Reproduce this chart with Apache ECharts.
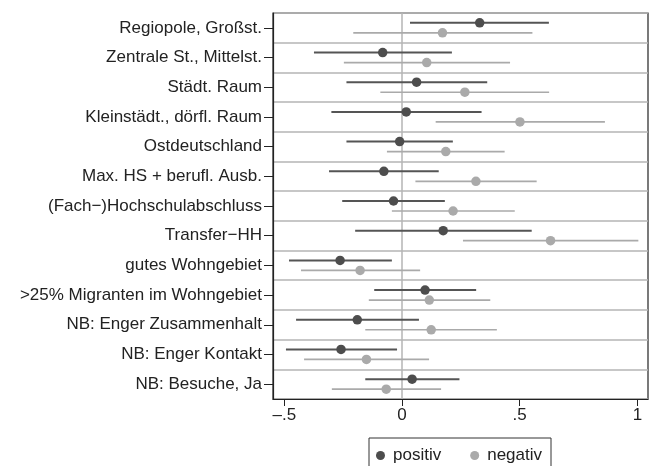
<!DOCTYPE html>
<html>
<head>
<meta charset="utf-8">
<script src="https://cdn.jsdelivr.net/npm/echarts@6/dist/echarts.min.js"></script>
<style>
  html, body { margin: 0; padding: 0; background: #fff; }
  #main { width: 657px; height: 466px; }
</style>
</head>
<body>
<div id="main"></div>
<script>
const categories = [
  "Regiopole, Großst.",
  "Zentrale St., Mittelst.",
  "Städt. Raum",
  "Kleinstädt., dörfl. Raum",
  "Ostdeutschland",
  "Max. HS + berufl. Ausb.",
  "(Fach\u2212)Hochschulabschluss",
  "Transfer\u2212HH",
  "gutes Wohngebiet",
  ">25% Migranten im Wohngebiet",
  "NB: Enger Zusammenhalt",
  "NB: Enger Kontakt",
  "NB: Besuche, Ja"
];

// positiv
const posMean = [0.330, -0.082, 0.062, 0.018, -0.010, -0.077, -0.036, 0.175, -0.263, 0.098, -0.190, -0.259, 0.043];
const posLow  = [0.034, -0.374, -0.236, -0.300, -0.236, -0.310, -0.254, -0.199, -0.480, -0.118, -0.450, -0.493, -0.156];
const posHigh = [0.624, 0.212, 0.362, 0.338, 0.216, 0.156, 0.182, 0.551, -0.043, 0.315, 0.072, -0.021, 0.244];

// negativ
const negMean = [0.172, 0.105, 0.267, 0.501, 0.186, 0.314, 0.217, 0.631, -0.178, 0.116, 0.124, -0.151, -0.067];
const negLow  = [-0.207, -0.247, -0.092, 0.143, -0.064, 0.057, -0.043, 0.259, -0.429, -0.141, -0.156, -0.416, -0.298];
const negHigh = [0.554, 0.459, 0.625, 0.862, 0.436, 0.572, 0.479, 1.004, 0.077, 0.375, 0.403, 0.115, 0.166];

const xTicks = [-0.5, 0, 0.5, 1];
const xTickLabels = { "-0.5": "\u2013.5", "0": "0", "0.5": ".5", "1": "1" };
const refLine = [0];

const darkCol = "#4d4d4d";
const darkLine = "#555555";
const lightCol = "#aaaaaa";
const font = "Liberation Sans";
const fs = 17;

function ciRenderer(dy, color, width) {
  return function (params, api) {
    const y = api.value(2);
    const a = api.coord([api.value(0), y]);
    const b = api.coord([api.value(1), y]);
    return {
      type: "line",
      shape: { x1: a[0], y1: a[1] + dy, x2: b[0], y2: b[1] + dy },
      style: { stroke: color, lineWidth: width }
    };
  };
}

// vertical reference line at x = 0
function refRenderer(params, api) {
  const cs = params.coordSys;
  const p = api.coord([api.value(0), 0]);
  return {
    type: "line",
    shape: { x1: p[0], y1: cs.y, x2: p[0], y2: cs.y + cs.height },
    style: { stroke: "#b4b4b4", lineWidth: 1.5 }
  };
}

const posCI = posLow.map((v, i) => [v, posHigh[i], i]);
const negCI = negLow.map((v, i) => [v, negHigh[i], i]);
const posPts = posMean.map((v, i) => [v, i]);
const negPts = negMean.map((v, i) => [v, i]);

let option = {
  animation: false,
  backgroundColor: "#fff",
  grid: {
    left: 273, right: 9, top: 13, bottom: 67,
    show: true, borderColor: "#222", borderWidth: 1.2
  },
  legend: {
    data: [
      { name: "positiv", itemStyle: { color: darkCol } },
      { name: "negativ", itemStyle: { color: lightCol } }
    ],
    left: 369, top: 438,
    orient: "horizontal",
    icon: "circle",
    itemWidth: 9, itemHeight: 9,
    itemGap: 29,
    padding: [9, 9, 10, 7],
    borderColor: "#333", borderWidth: 1,
    textStyle: { fontFamily: font, fontSize: fs, color: "#222", padding: [0, 0, 0, 3] }
  },
  xAxis: {
    type: "value",
    min: -0.548, max: 1.045,
    axisLine: { show: true, onZero: false, lineStyle: { color: "#222", width: 1.2 } },
    axisTick: { show: true, length: 7, customValues: xTicks, lineStyle: { color: "#222" } },
    axisLabel: {
      customValues: xTicks,
      margin: 8,
      fontFamily: font, fontSize: fs, color: "#222",
      formatter: v => xTickLabels[String(v)] ?? String(v)
    },
    splitLine: { show: false }
  },
  yAxis: {
    type: "category",
    inverse: true,
    data: categories,
    boundaryGap: true,
    axisLine: { show: true, onZero: false, lineStyle: { color: "#222", width: 1.2 } },
    axisTick: { show: true, alignWithLabel: true, length: 9, lineStyle: { color: "#222" } },
    axisLabel: { margin: 11, fontFamily: font, fontSize: fs, color: "#222" },
    splitLine: { show: true, lineStyle: { color: "#b4b4b4", width: 1.5 } }
  },
  series: [
    {
      name: "zero",
      type: "custom",
      renderItem: refRenderer,
      data: refLine.map(v => [v]),
      encode: { x: 0 },
      z: 1,
      silent: true
    },
    {
      name: "ci-neg",
      type: "custom",
      renderItem: ciRenderer(5, lightCol, 1.7),
      data: negCI,
      encode: { x: [0, 1], y: 2 },
      z: 2,
      silent: true
    },
    {
      name: "ci-pos",
      type: "custom",
      renderItem: ciRenderer(-5, darkLine, 2),
      data: posCI,
      encode: { x: [0, 1], y: 2 },
      z: 2,
      silent: true
    },
    {
      name: "negativ",
      type: "scatter",
      data: negPts,
      symbol: "circle",
      symbolSize: 9.5,
      symbolOffset: [0, 5],
      itemStyle: { color: lightCol, opacity: 1 },
      z: 3
    },
    {
      name: "positiv",
      type: "scatter",
      data: posPts,
      symbol: "circle",
      symbolSize: 9.5,
      symbolOffset: [0, -5],
      itemStyle: { color: darkCol, opacity: 1 },
      z: 3
    }
  ]
};

var myChart = echarts.init(document.getElementById("main"));
window.onresize = function () {
  myChart.resize();
};
myChart.setOption(option);
</script>
</body>
</html>
